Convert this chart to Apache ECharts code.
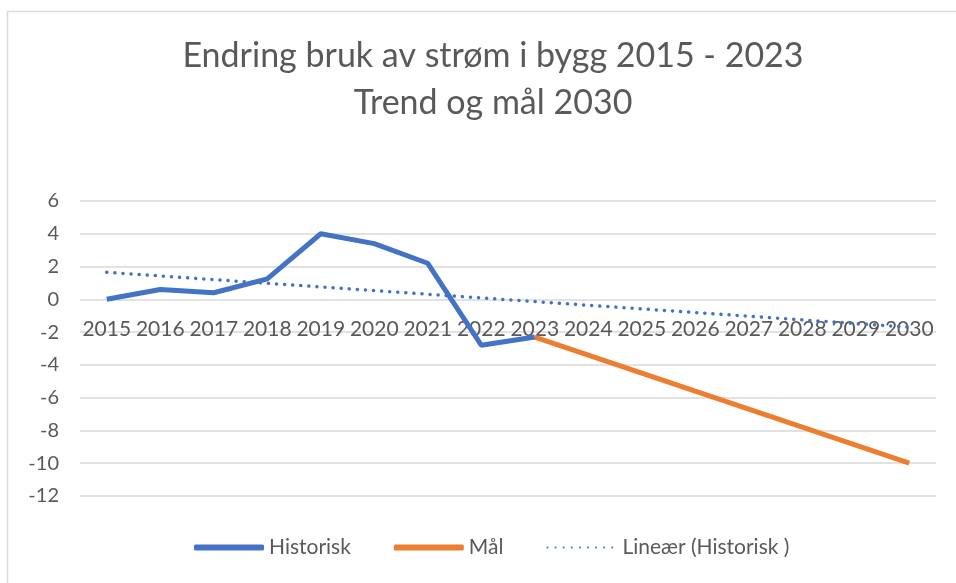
<!DOCTYPE html>
<html>
<head>
<meta charset="utf-8">
<script src="https://cdn.jsdelivr.net/npm/echarts@6/dist/echarts.min.js"></script>
<style>
html, body { margin: 0; padding: 0; background: #fff; }
#chart { width: 956px; height: 583px; }
</style>
</head>
<body>
<div id="chart"></div>
<script>
// data
var years = ['2015','2016','2017','2018','2019','2020','2021','2022','2023','2024','2025','2026','2027','2028','2029','2030'];
var historisk = [0, 0.6, 0.4, 1.25, 4.0, 3.4, 2.2, -2.8, -2.3, null, null, null, null, null, null, null];
var maal = [null, null, null, null, null, null, null, null, -2.3, null, null, null, null, null, null, -10];
var trend = [1.65, null, null, null, null, null, null, null, null, null, null, null, null, null, null, -1.7];
var yTicks = { min: -12, max: 6, step: 2 };

var fnt = 'Lato, "Open Sans", sans-serif';
var grey = '#595959';

var chart = echarts.init(document.getElementById('chart'));
chart.setOption({
    animation: false,
    backgroundColor: '#fff',
    title: {
        text: 'Endring bruk av strøm i bygg 2015 - 2023\nTrend og mål 2030',
        left: 488,
        top: 28,
        textAlign: 'center',
        textStyle: { fontFamily: fnt, fontSize: 34, fontWeight: 'normal', color: grey, lineHeight: 47 }
    },
    graphic: [{
        type: 'polyline',
        shape: { points: [[7.5, 583], [7.5, 11.5], [956, 11.5]] },
        style: { stroke: '#d9d9d9', lineWidth: 1.5, fill: null }
    }],
    legend: {
        bottom: 20,
        left: 189,
        itemGap: 43,
        itemWidth: 70,
        itemHeight: 6,
        textStyle: { fontFamily: fnt, fontSize: 21, color: grey },
        data: [
            { name: 'Historisk', icon: 'roundRect' },
            { name: 'Mål', icon: 'roundRect' },
            { name: 'Lineær (Historisk )', itemStyle: { opacity: 0 } }
        ]
    },
    grid: { left: 80, right: 20, top: 201, height: 295 },
    xAxis: {
        type: 'category',
        data: years,
        offset: -197, // labels sit under the zero line, as in the original
        axisLine: { show: false },
        axisTick: { show: false },
        axisLabel: { margin: 20, fontFamily: fnt, fontSize: 21, color: grey, interval: 0 }
    },
    yAxis: {
        type: 'value',
        min: yTicks.min,
        max: yTicks.max,
        interval: yTicks.step,
        axisLine: { show: false },
        axisTick: { show: false },
        axisLabel: { fontFamily: fnt, fontSize: 20, color: grey, margin: 21 },
        splitLine: { lineStyle: { color: '#d9d9d9', width: 1.5 } }
    },
    series: [
        {
            name: 'Historisk',
            type: 'line',
            data: historisk,
            symbol: 'none',
            color: '#4472c4',
            lineStyle: { width: 5, color: '#4472c4' },
            z: 3
        },
        {
            name: 'Mål',
            type: 'line',
            data: maal,
            connectNulls: true,
            symbol: 'none',
            color: '#ed7d31',
            lineStyle: { width: 5, color: '#ed7d31' },
            z: 2
        },
        {
            name: 'Lineær (Historisk )',
            type: 'line',
            data: trend,
            connectNulls: true,
            symbol: 'none',
            color: '#4472c4',
            lineStyle: { width: 3.5, color: '#4472c4', type: [0.1, 8], cap: 'round' },
            z: 4
        }
    ]
});
</script>
</body>
</html>
